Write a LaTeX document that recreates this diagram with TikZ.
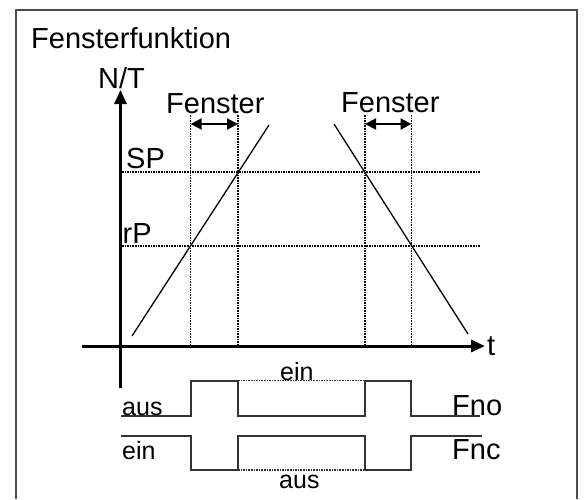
\documentclass[tikz,border=0pt]{standalone}
\usepackage{fontspec}
\setmainfont{Liberation Sans}
\usetikzlibrary{arrows.meta}
\begin{document}
\begin{tikzpicture}[x=1pt,y=-1pt,
  lbl/.style={inner sep=0pt, anchor=base west, font=\fontsize{29}{31}\selectfont},
  sml/.style={inner sep=0pt, anchor=base west, font=\fontsize{25}{26}\selectfont},
  axis/.style={line width=3pt, -{Triangle[length=14pt,width=12pt]}},
  guide/.style={line width=1.1pt, dash pattern=on 1.6pt off 1pt},
  ramp/.style={line width=1.3pt},
  sig/.style={line width=1.6pt, draw=black!80},
  sigdot/.style={line width=1.2pt, draw=black!80, dash pattern=on 1.6pt off 1pt},
  win/.style={line width=2.2pt, {Triangle[length=11pt,width=11pt]}-{Triangle[length=11pt,width=11pt]}}]
\useasboundingbox (0,0) rectangle (585,499);
\fill[white] (0,0) rectangle (585,499);
\draw[line width=1.5pt, draw=black!70] (16,499) -- (16,10) -- (577,10) -- (577,499);

% axes
\coordinate (ybot) at (120.5,388);
\coordinate (ytop) at (120.5,90);
\coordinate (xl) at (82,346);
\coordinate (xr) at (485,346);
\draw[axis] (ybot) -- (ytop);
\draw[axis] (xl) -- (xr);

% guide lines
\coordinate (spL) at (122,172);  \coordinate (spR) at (480,172);
\coordinate (rpL) at (122,246);  \coordinate (rpR) at (480,246);
\draw[guide] (spL) -- (spR);
\draw[guide] (rpL) -- (rpR);
\foreach \n/\x in {a/190.7,b/238,c/365,d/411.5}{
  \coordinate (v\n top) at (\x,115);
  \coordinate (v\n bot) at (\x,346);
  \draw[guide] (v\n top) -- (v\n bot);
}

% ramps
\coordinate (r1a) at (132,336); \coordinate (r1b) at (269,125);
\coordinate (r2a) at (334,124); \coordinate (r2b) at (468,334);
\draw[ramp] (r1a) -- (r1b);
\draw[ramp] (r2a) -- (r2b);

% window arrows
\coordinate (w1a) at (190.7,124); \coordinate (w1b) at (238,124);
\coordinate (w2a) at (365,124);   \coordinate (w2b) at (411.5,124);
\draw[win] (w1a) -- (w1b);
\draw[win] (w2a) -- (w2b);

% signals
\coordinate (fno0) at (121,416);
\draw[sig] (fno0) -| (190.7,380.7) -| (238,416) -| (365,380.7) -| (411,416) -- (480,416);
\draw[sigdot] (238,380.7) -- (365,380.7);
\coordinate (fnc0) at (121,436);
\draw[sig] (fnc0) -| (190.7,470) -| (238,436) -| (365,470) -| (411,436) -- (482,436);
\draw[sigdot] (238,470) -- (365,470);

% labels
\node[lbl] (title) at (31,48) {Fensterfunktion};
\node[lbl] (nt) at (98,88) {N/T};
\node[lbl] (f1) at (166,113) {Fenster};
\node[lbl] (f2) at (341,112.5) {Fenster};
\node[lbl] (sp) at (126,168.5) {SP};
\node[lbl] (rp) at (122.5,243) {rP};
\node[lbl] (t) at (487,355) {t};
\node[sml] (aus1) at (122,415) {aus};
\node[sml] (ein1) at (122,459) {ein};
\node[sml] (ein2) at (280,380) {ein};
\node[sml] (aus2) at (279,488) {aus};
\node[lbl] (fno) at (452,415) {Fno};
\node[lbl] (fnc) at (452,459) {Fnc};
\end{tikzpicture}
\end{document}
